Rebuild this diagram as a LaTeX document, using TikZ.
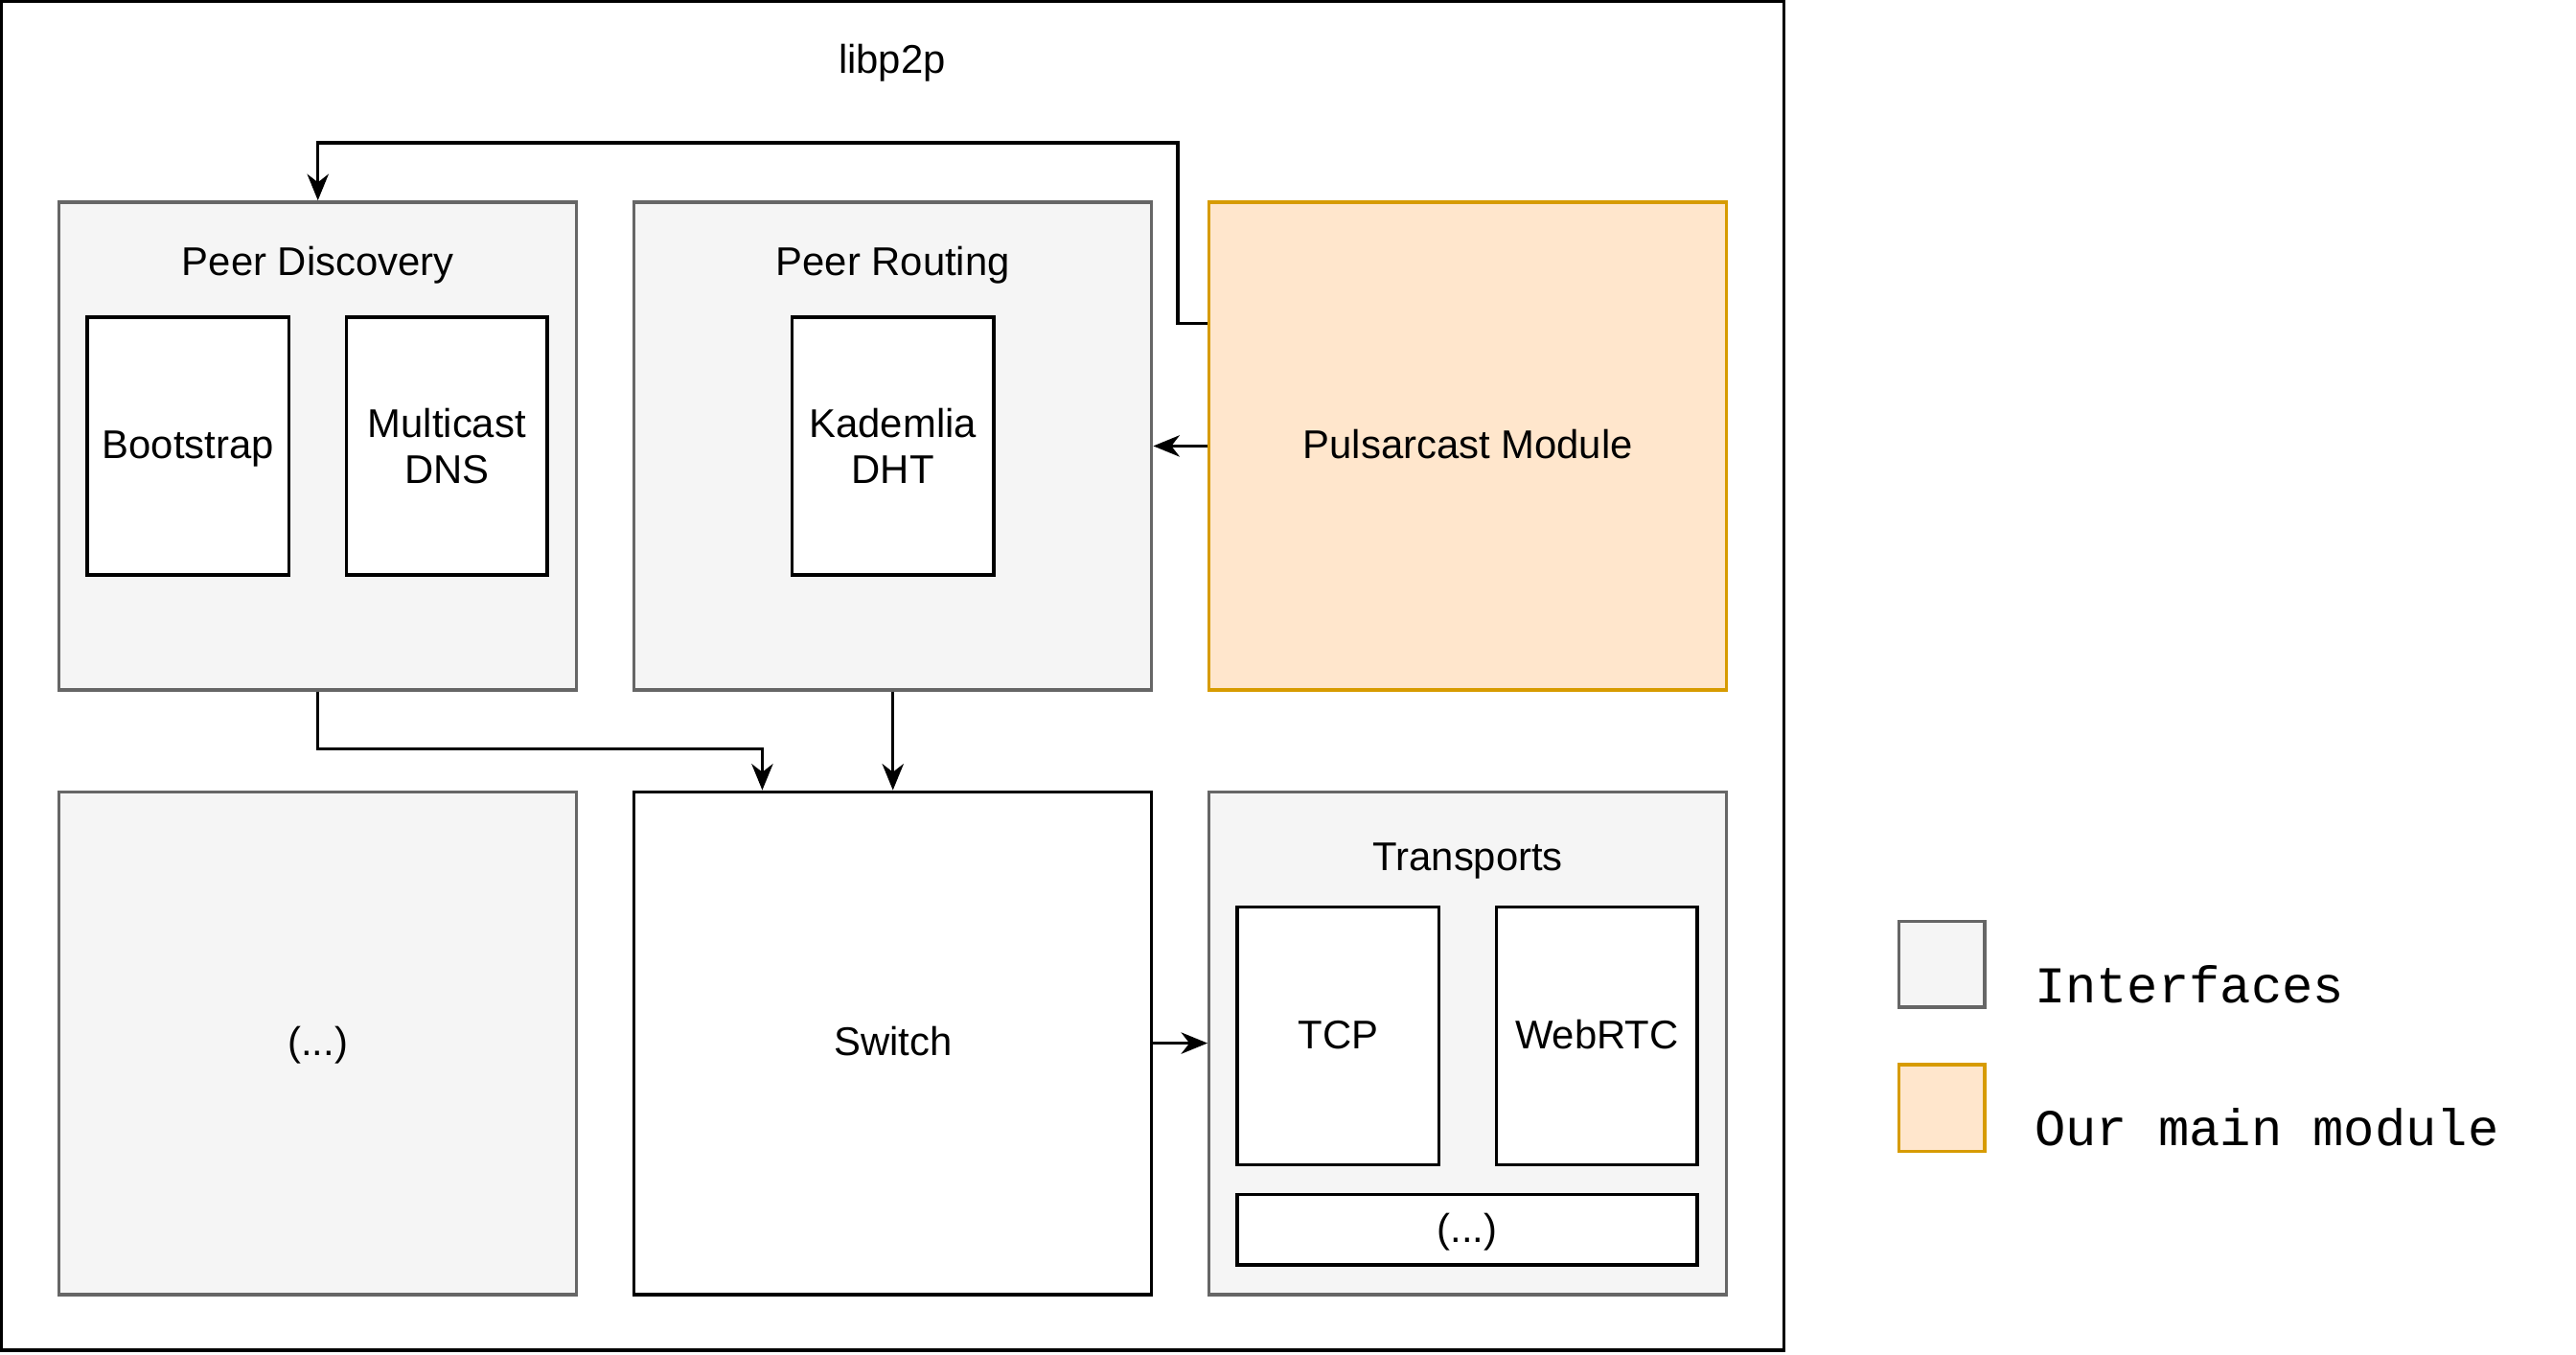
\documentclass[tikz,border=0pt]{standalone}
\usepackage{fontspec}
\setmainfont{Liberation Sans}
\newfontfamily\legfont{Liberation Mono}
\usetikzlibrary{calc,arrows.meta}
\definecolor{gfill}{HTML}{F5F5F5}
\definecolor{gline}{HTML}{666666}
\definecolor{ofill}{HTML}{FFE6CC}
\definecolor{oline}{HTML}{D79B00}
\begin{document}
\begin{tikzpicture}[x=0.5pt,y=-0.5pt,
  font=\fontsize{12.2}{14}\selectfont,
  base/.style={rectangle, line width=1pt, inner sep=0pt, align=center},
  one/.style={text height=0.98em, text depth=0.2em},
  grey/.style={base, draw=gline, fill=gfill},
  orng/.style={base, draw=oline, fill=ofill},
  plain/.style={base, draw=black, fill=white},
  big/.style={minimum width=157.5pt, minimum height=148.5pt},
  big2/.style={minimum width=157.5pt, minimum height=153pt},
  small/.style={minimum width=61.5pt, minimum height=78.5pt},
  arr/.style={line width=1pt, -{Stealth[length=8pt, width=6.5pt, inset=2.5pt]}},
  title/.style={inner sep=0pt, one},
  legtxt/.style={font=\legfont\fontsize{15.7}{18}\selectfont, anchor=west, inner sep=0pt}
]
\useasboundingbox (0,0) rectangle (1568,824.3);
% outer
\node[base, draw=black, minimum width=542.5pt, minimum height=410.5pt] (outer) at (543.5,411.5) {};
\node[title] (libtitle) at (543,37) {libp2p};
% top row
\node[grey, big] (pd) at (193.5,271.5) {};
\node[grey, big] (pr) at (543.5,271.5) {};
\node[orng, big, one] (pm) at (893.5,271.5) {Pulsarcast Module};
\node[title] (pdt) at (193.5,160) {Peer Discovery};
\node[title] (prt) at (543.5,160) {Peer Routing};
\node[plain, small, one] (boot) at (114.5,271.5) {Bootstrap};
\node[plain, small, minimum width=61pt] (mdns) at (272,271.5) {Multicast\\DNS};
\node[plain, small] (kad) at (543.5,271.5) {Kademlia\\DHT};
% bottom row
\node[grey, big2, one] (etc) at (193.5,635) {(...)};
\node[plain, big2, one] (sw) at (543.5,635) {Switch};
\node[grey, big2] (tr) at (893.5,635) {};
\node[title] (trt) at (893.5,522) {Transports};
\node[plain, small, one] (tcp) at (814.5,630.5) {TCP};
\node[plain, small, minimum width=61pt, one] (rtc) at (972,630.5) {WebRTC};
\node[plain, minimum width=140pt, minimum height=21.5pt, one] (tetc) at (893,748.5) {(...)};
% legend
\node[grey, minimum width=26pt, minimum height=26pt] (leg1) at (1182,587) {};
\node[orng, minimum width=26pt, minimum height=26.5pt] (leg2) at (1182,674.5) {};
\node[legtxt] (leg1t) at (1238,599) {Interfaces};
\node[legtxt] (leg2t) at (1238,686) {Our main module};
% connectors
\coordinate (pmo) at ($(pm.north west)+(0,75)$);
\draw[arr] (pmo) -- ++(-18,0) -- ++(0,-110) -| (pd.north);
\draw[arr] (pm.west) -- (pr.east);
\coordinate (swin) at ($(sw.north west)+(79,0)$);
\draw[arr] (pd.south) -- ++(0,35) -| (swin);
\draw[arr] (pr.south) -- (sw.north);
\draw[arr] (sw.east) -- (tr.west);
\end{tikzpicture}
\end{document}
